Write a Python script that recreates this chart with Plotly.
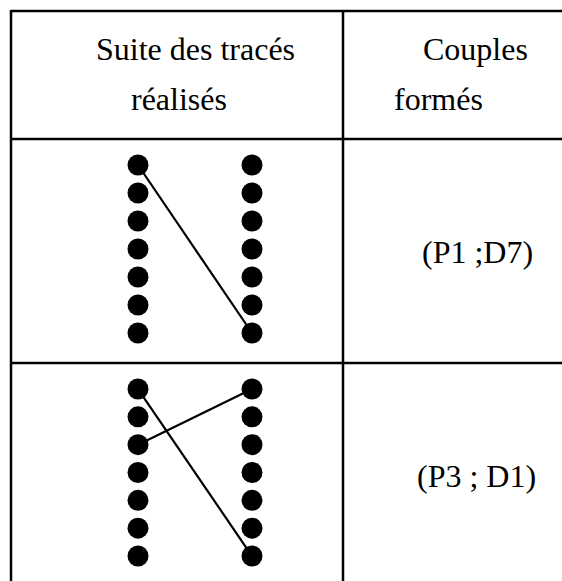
import plotly.graph_objects as go

# ---- data ----
header_left = ["Suite des tracés", "réalisés"]
header_right = ["Couples", "formés"]
n_points = 7
left_labels = [f"P{i}" for i in range(1, n_points + 1)]
right_labels = [f"D{i}" for i in range(1, n_points + 1)]
# segments drawn in each row: (P index, D index)
row1_segments = [(1, 7)]
row2_segments = [(1, 7), (3, 1)]
row_labels = ["(P1 ;D7)", "(P3 ; D1)"]

W, H = 562, 581
FONT = "Liberation Serif, Times New Roman, serif"
FS = 32


def px(x):
    return x / W


def py(y):
    return 1 - y / H


fig = go.Figure()

rows = [row1_segments, row2_segments]
for r, segs in enumerate(rows):
    xa = "x" if r == 0 else "x2"
    ya = "y" if r == 0 else "y2"
    for (p, d) in segs:
        fig.add_trace(go.Scatter(x=[0, 1], y=[p, d], mode="lines",
                                 line=dict(color="black", width=2.2),
                                 xaxis=xa, yaxis=ya, hoverinfo="skip",
                                 showlegend=False))
    idx = list(range(1, n_points + 1))
    fig.add_trace(go.Scatter(x=[0] * n_points, y=idx, mode="markers",
                             marker=dict(color="black", size=21),
                             text=left_labels, xaxis=xa, yaxis=ya,
                             showlegend=False, cliponaxis=False))
    fig.add_trace(go.Scatter(x=[1] * n_points, y=idx, mode="markers",
                             marker=dict(color="black", size=21),
                             text=right_labels, xaxis=xa, yaxis=ya,
                             showlegend=False, cliponaxis=False))

ax_common = dict(visible=False, fixedrange=True)
fig.update_layout(
    width=W, height=H,
    margin=dict(l=0, r=0, t=0, b=0),
    paper_bgcolor="white", plot_bgcolor="rgba(0,0,0,0)",
    showlegend=False,
    xaxis=dict(range=[-0.5, 1.5], domain=[px(81), px(309)], **ax_common),
    yaxis=dict(range=[8, 0], domain=[py(361), py(137)], anchor="x", **ax_common),
    xaxis2=dict(range=[-0.5, 1.5], domain=[px(81), px(309)], anchor="y2", **ax_common),
    yaxis2=dict(range=[7.8, 0], domain=[py(578.3), py(361.2)], anchor="x2", **ax_common),
)

# table grid
line = dict(color="black", width=2.5)
shapes = [
    dict(type="line", x0=px(11), x1=px(562), y0=py(11), y1=py(11)),
    dict(type="line", x0=px(11), x1=px(562), y0=py(139), y1=py(139)),
    dict(type="line", x0=px(11), x1=px(562), y0=py(363), y1=py(363)),
    dict(type="line", x0=px(11), x1=px(11), y0=py(10), y1=py(581)),
    dict(type="line", x0=px(343), x1=px(343), y0=py(10), y1=py(581)),
]
for s in shapes:
    s.update(xref="paper", yref="paper", line=line, layer="above")
fig.update_layout(shapes=shapes)

texts = [
    (header_left[0], 94, 49),
    (header_left[1], 129, 99),
    (header_right[0], 421, 49),
    (header_right[1], 392, 99),
    (row_labels[0], 420, 252),
    (row_labels[1], 415, 476),
]
for t, x, y in texts:
    fig.add_annotation(text=t, x=px(x), y=py(y), xref="paper", yref="paper",
                       xanchor="left", yanchor="middle", showarrow=False,
                       font=dict(family=FONT, size=FS, color="black"))

fig.write_html(
    "out.html",
    config={"displayModeBar": False},
    post_script="document.body.style.margin='0';document.body.style.overflow='hidden';",
)
